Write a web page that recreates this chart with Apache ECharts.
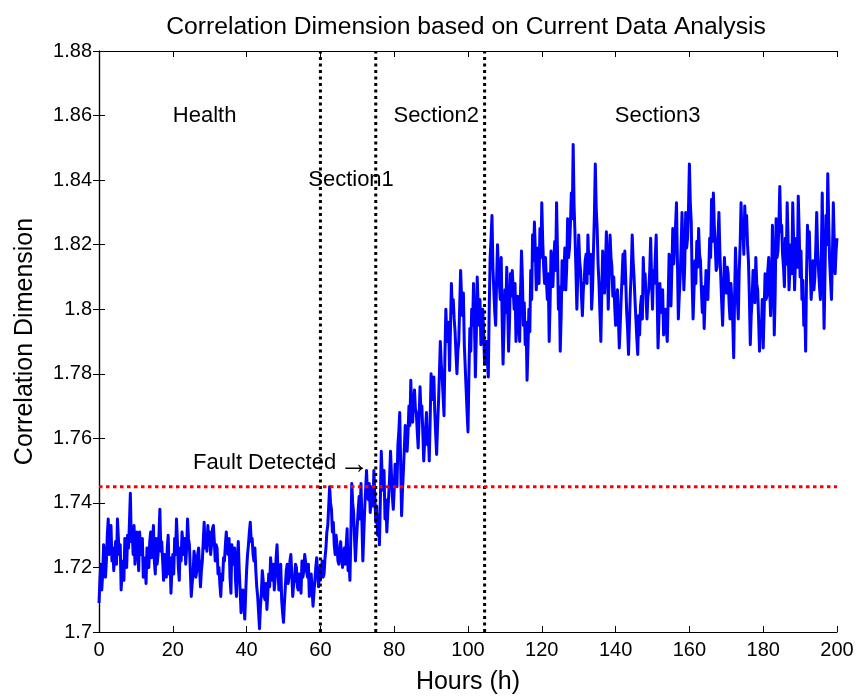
<!DOCTYPE html>
<html>
<head>
<meta charset="utf-8">
<script src="https://cdn.jsdelivr.net/npm/echarts@6/dist/echarts.min.js"></script>
<style>
  html, body { margin: 0; padding: 0; background: #fff; }
  #chart { width: 858px; height: 696px; }
</style>
</head>
<body>
<div id="chart"></div>
<script>
// ---- Data ----
const hourStep = 0.25;              // sampling interval of the series (hours)
const healthStart = 0;              // 0 .. 59.75 h
const healthValues = [
  1.709,1.716,1.721,1.713,1.718,1.727,1.725,1.717,1.722,1.730,1.735,1.724,1.729,1.733,1.722,1.726,1.719,1.724,1.728,1.721,
  1.735,1.729,1.724,1.727,1.713,1.719,1.722,1.716,1.729,1.725,1.720,1.730,1.726,1.734,1.743,1.728,1.731,1.724,1.733,1.721,
  1.725,1.731,1.727,1.719,1.731,1.726,1.724,1.729,1.717,1.723,1.721,1.715,1.726,1.722,1.720,1.728,1.731,1.723,1.728,1.733,
  1.722,1.718,1.729,1.721,1.724,1.730,1.738,1.725,1.728,1.722,1.716,1.724,1.721,1.717,1.726,1.730,1.718,1.723,1.712,1.719,
  1.724,1.718,1.729,1.724,1.735,1.728,1.720,1.716,1.726,1.722,1.731,1.727,1.724,1.729,1.721,1.726,1.735,1.729,1.727,1.719,
  1.711,1.715,1.718,1.725,1.723,1.717,1.719,1.724,1.726,1.720,1.714,1.719,1.722,1.728,1.734,1.726,1.729,1.725,1.733,1.727,
  1.731,1.724,1.727,1.732,1.733,1.728,1.722,1.727,1.726,1.718,1.720,1.715,1.711,1.718,1.716,1.723,1.722,1.727,1.731,1.725,
  1.724,1.729,1.717,1.712,1.727,1.723,1.721,1.726,1.716,1.711,1.723,1.728,1.719,1.713,1.706,1.711,1.713,1.709,1.704,1.712,
  1.719,1.724,1.727,1.731,1.734,1.728,1.729,1.724,1.722,1.726,1.719,1.714,1.711,1.706,1.701,1.708,1.712,1.719,1.716,1.711,
  1.710,1.715,1.707,1.712,1.718,1.714,1.723,1.719,1.716,1.721,1.713,1.717,1.723,1.727,1.719,1.713,1.716,1.721,1.710,1.706,
  1.703,1.709,1.714,1.719,1.721,1.715,1.717,1.722,1.724,1.718,1.711,1.715,1.716,1.721,1.720,1.714,1.713,1.718,1.716,1.712,
  1.722,1.717,1.719,1.724,1.724,1.719,1.717,1.721,1.711,1.715,1.718,1.713,1.708,1.712,1.716,1.720,1.723,1.718,1.714,1.720
];
const section1Start = 60;           // 60 .. 74.75 h
const section1Values = [
  1.716,1.720,1.722,1.717,1.718,1.723,1.726,1.731,1.733,1.739,1.745,1.740,1.738,1.731,1.734,1.727,1.724,1.730,1.727,1.722,
  1.721,1.725,1.728,1.723,1.720,1.724,1.726,1.721,1.727,1.732,1.719,1.723,1.716,1.730,1.746,1.740,1.737,1.729,1.722,1.728,
  1.733,1.738,1.742,1.735,1.746,1.734,1.722,1.730,1.738,1.744,1.750,1.743,1.741,1.746,1.737,1.741,1.745,1.739,1.750,1.742
];
const section2Start = 75;           // 75 .. 104.75 h
const section2Values = [
  1.734,1.739,1.730,1.736,1.727,1.741,1.756,1.748,1.744,1.750,1.735,1.741,1.731,1.737,1.742,1.748,1.756,1.749,1.742,1.738,
  1.744,1.752,1.749,1.745,1.758,1.762,1.768,1.752,1.736,1.744,1.750,1.757,1.764,1.758,1.756,1.762,1.770,1.764,1.778,1.768,
  1.765,1.771,1.775,1.769,1.768,1.762,1.757,1.766,1.776,1.768,1.770,1.762,1.753,1.759,1.763,1.768,1.758,1.762,1.753,1.766,
  1.780,1.772,1.774,1.779,1.768,1.761,1.755,1.764,1.771,1.780,1.790,1.783,1.779,1.773,1.767,1.786,1.800,1.792,1.790,1.796,
  1.781,1.794,1.808,1.799,1.803,1.797,1.793,1.786,1.780,1.787,1.790,1.801,1.812,1.804,1.798,1.805,1.789,1.782,1.775,1.768,
  1.762,1.780,1.794,1.787,1.800,1.795,1.808,1.796,1.779,1.792,1.810,1.801,1.795,1.803,1.789,1.794,1.800,1.792,1.783,1.788
];
const section3Start = 105;          // 105 .. 200 h
const section3Values = [
  1.790,1.784,1.779,1.800,1.816,1.822,1.829,1.813,1.806,1.799,1.795,1.809,1.820,1.812,1.808,1.803,1.816,1.797,1.783,1.794,
  1.806,1.799,1.813,1.801,1.787,1.796,1.811,1.804,1.812,1.806,1.800,1.808,1.790,1.797,1.804,1.796,1.790,1.806,1.818,1.809,
  1.795,1.802,1.789,1.796,1.778,1.788,1.800,1.793,1.812,1.803,1.823,1.815,1.827,1.818,1.806,1.813,1.819,1.808,1.825,1.816,
  1.833,1.821,1.813,1.808,1.816,1.809,1.803,1.811,1.790,1.802,1.818,1.811,1.807,1.815,1.821,1.812,1.833,1.818,1.800,1.807,
  1.787,1.798,1.815,1.806,1.811,1.819,1.806,1.813,1.828,1.816,1.819,1.826,1.836,1.828,1.851,1.832,1.823,1.812,1.800,1.811,
  1.823,1.815,1.812,1.804,1.798,1.806,1.809,1.815,1.817,1.808,1.823,1.814,1.811,1.817,1.800,1.806,1.818,1.829,1.845,1.831,
  1.825,1.814,1.808,1.799,1.790,1.805,1.818,1.810,1.805,1.813,1.824,1.815,1.800,1.811,1.823,1.816,1.813,1.804,1.810,1.801,
  1.795,1.802,1.806,1.797,1.788,1.795,1.803,1.810,1.817,1.808,1.818,1.809,1.799,1.794,1.786,1.796,1.805,1.812,1.823,1.815,
  1.810,1.803,1.797,1.791,1.786,1.798,1.792,1.801,1.804,1.797,1.816,1.806,1.811,1.803,1.797,1.804,1.806,1.812,1.822,1.810,
  1.800,1.812,1.808,1.816,1.823,1.805,1.788,1.797,1.808,1.801,1.799,1.806,1.792,1.798,1.800,1.794,1.790,1.803,1.817,1.808,
  1.801,1.813,1.825,1.814,1.820,1.826,1.833,1.815,1.797,1.804,1.810,1.819,1.830,1.817,1.806,1.814,1.830,1.819,1.822,1.831,
  1.845,1.833,1.827,1.808,1.797,1.806,1.815,1.808,1.821,1.813,1.825,1.817,1.815,1.806,1.799,1.807,1.794,1.803,1.812,1.805,
  1.803,1.812,1.822,1.816,1.834,1.821,1.836,1.826,1.820,1.812,1.813,1.822,1.830,1.818,1.810,1.802,1.795,1.806,1.816,1.809,
  1.805,1.813,1.811,1.802,1.797,1.808,1.803,1.796,1.785,1.804,1.819,1.809,1.803,1.797,1.812,1.820,1.833,1.822,1.826,1.817,
  1.832,1.823,1.829,1.820,1.815,1.804,1.789,1.798,1.803,1.812,1.810,1.802,1.816,1.808,1.806,1.797,1.787,1.796,1.793,1.803,
  1.788,1.799,1.811,1.803,1.804,1.812,1.816,1.807,1.798,1.806,1.826,1.814,1.792,1.805,1.828,1.816,1.818,1.826,1.838,1.824,
  1.826,1.817,1.813,1.807,1.822,1.814,1.833,1.821,1.806,1.813,1.820,1.811,1.833,1.821,1.806,1.815,1.822,1.813,1.835,1.824,
  1.810,1.818,1.803,1.809,1.795,1.802,1.787,1.811,1.826,1.816,1.824,1.812,1.803,1.809,1.815,1.806,1.810,1.819,1.830,1.818,
  1.812,1.807,1.803,1.817,1.836,1.812,1.794,1.811,1.829,1.820,1.842,1.827,1.815,1.809,1.803,1.816,1.833,1.821,1.811,1.818,
  1.822
];

const sectionBoundaries = [60, 75, 104.5];   // vertical dotted lines (h)
const faultThreshold = 1.745;                // red dotted line
const xTicks = [0, 20, 40, 60, 80, 100, 120, 140, 160, 180, 200];
const yTicks = [1.7, 1.72, 1.74, 1.76, 1.78, 1.8, 1.82, 1.84, 1.86, 1.88];

const annotationTexts = ['Health', 'Section1', 'Section2', 'Section3', 'Fault Detected{arr|\u2192}'];
const annotationX     = [20, 56.7, 79.8, 139.8, 25.5];
const annotationY     = [1.86, 1.84, 1.86, 1.86, 1.7525];

// ---- Build series data ----
function toPairs(start, vals) {
  return vals.map((v, i) => [start + i * hourStep, v]);
}
const seriesData = []
  .concat(toPairs(healthStart, healthValues))
  .concat(toPairs(section1Start, section1Values))
  .concat(toPairs(section2Start, section2Values))
  .concat(toPairs(section3Start, section3Values));

const xMin = xTicks[0], xMax = xTicks[xTicks.length - 1];
const yMin = yTicks[0], yMax = yTicks[yTicks.length - 1];

const FONT = '"Liberation Sans", Arial, Helvetica, "DejaVu Sans", sans-serif';

const chart = echarts.init(document.getElementById('chart'), null, { renderer: 'canvas' });

const vlineSeries = sectionBoundaries.map(b => ({
  type: 'line',
  data: [[b, yMin], [b, yMax]],
  showSymbol: false,
  symbol: 'none',
  silent: true,
  z: 5,
  lineStyle: { color: '#000000', width: 3, type: [3, 3.5] }
}));

const option = {
  animation: false,
  backgroundColor: '#ffffff',
  title: {
    text: 'Correlation Dimension based on Current Data Analysis',
    left: 461,
    top: 10,
    textAlign: 'center',
    textStyle: { fontFamily: FONT, fontSize: 24.7, fontWeight: 'normal', color: '#000' }
  },
  grid: { left: 99, right: 21, top: 51, bottom: 64, containLabel: false, outerBoundsMode: 'none' },
  xAxis: [
    {
      type: 'value', min: xMin, max: xMax, interval: 20,
      name: 'Hours (h)', nameLocation: 'middle', nameGap: 38,
      nameTextStyle: { fontFamily: FONT, fontSize: 25, color: '#000' },
      axisLine: { lineStyle: { color: '#000', width: 1.2 } },
      axisTick: { inside: true, length: 6, lineStyle: { color: '#000', width: 1 } },
      axisLabel: { fontFamily: FONT, fontSize: 20, color: '#000', margin: 8 },
      splitLine: { show: false }
    },
    {
      type: 'value', min: xMin, max: xMax, interval: 20, position: 'top',
      axisLine: { lineStyle: { color: '#000', width: 1.2 } },
      axisTick: { inside: true, length: 6, lineStyle: { color: '#000', width: 1 } },
      axisLabel: { show: false },
      splitLine: { show: false }
    }
  ],
  yAxis: [
    {
      type: 'value', min: yMin, max: yMax, interval: 0.02,
      name: 'Correlation Dimension', nameLocation: 'middle', nameGap: 61,
      nameTextStyle: { fontFamily: FONT, fontSize: 25, color: '#000' },
      axisLine: { show: true, lineStyle: { color: '#000', width: 1.2 } },
      axisTick: { show: true, inside: true, length: 6, lineStyle: { color: '#000', width: 1 } },
      axisLabel: {
        fontFamily: FONT, fontSize: 20, color: '#000', margin: 7,
        formatter: v => String(Math.round(v * 100) / 100)
      },
      splitLine: { show: false }
    },
    {
      type: 'value', min: yMin, max: yMax, interval: 0.02, position: 'right',
      axisLine: { show: true, lineStyle: { color: '#000', width: 1.2 } },
      axisTick: { show: true, inside: true, length: 6, lineStyle: { color: '#000', width: 1 } },
      axisLabel: { show: false },
      splitLine: { show: false }
    }
  ],
  series: [
    {
      type: 'line',
      data: seriesData,
      showSymbol: false,
      symbol: 'none',
      z: 3,
      lineStyle: { color: '#0000ff', width: 3, join: 'round' }
    },
    ...vlineSeries,
    {
      type: 'line',
      data: [[xMin, faultThreshold], [xMax, faultThreshold]],
      showSymbol: false,
      symbol: 'none',
      silent: true,
      z: 6,
      lineStyle: { color: '#ff0000', width: 3, type: [3.5, 3.5] }
    },
    {
      type: 'scatter',
      symbolSize: 0,
      silent: true,
      z: 10,
      itemStyle: { opacity: 1 },
      data: annotationTexts.map((t, i) => ({
        value: [annotationX[i], annotationY[i]],
        label: { formatter: t }
      })),
      label: {
        show: true,
        position: 'right',
        distance: 0,
        fontFamily: FONT,
        fontSize: 22,
        color: '#000000',
        opacity: 1,
        rich: { arr: { fontFamily: FONT, fontSize: 30, color: '#000000', padding: [4, 0, 0, 3] } }
      }
    }
  ]
};

chart.setOption(option);
</script>
</body>
</html>
